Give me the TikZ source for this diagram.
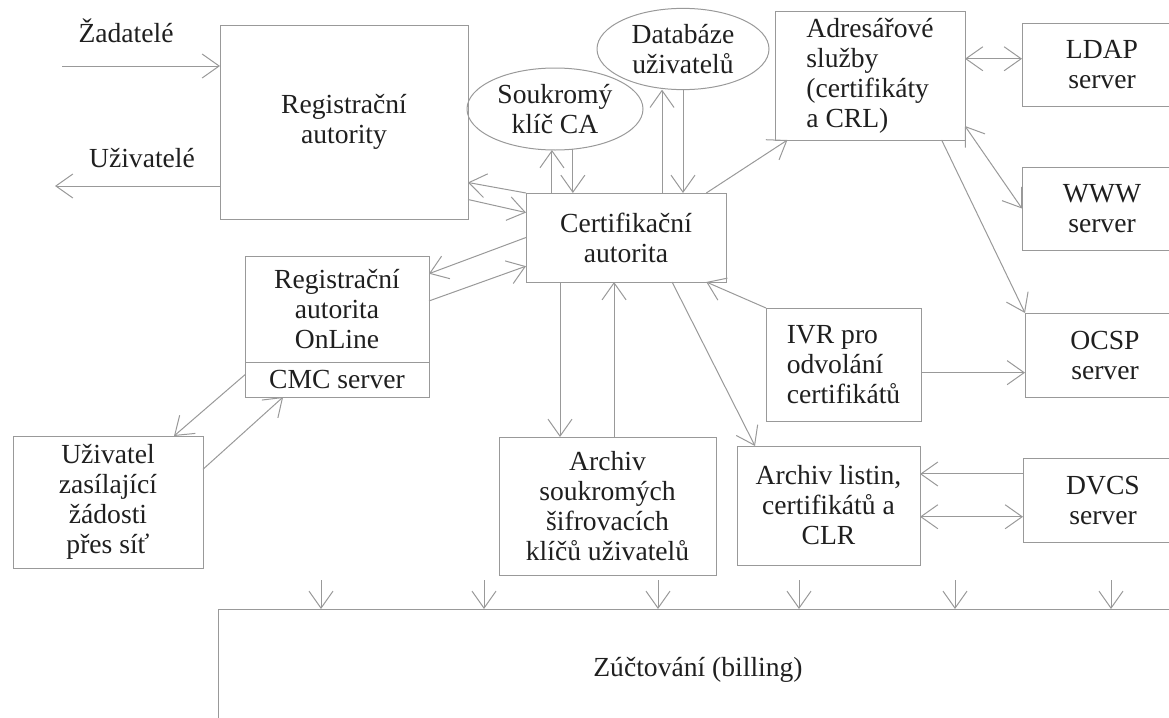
\documentclass[tikz,border=0pt]{standalone}
\usepackage{fontspec}
\setmainfont{Liberation Serif}
\usetikzlibrary{arrows.meta,shapes.geometric}

\tikzset{
  box/.style={draw=black!40,line width=0.5pt,rectangle,outer sep=0pt,inner sep=2pt,
    align=center,text=black!88,font=\fontsize{13.8}{15}\selectfont},
  oval/.style={box,ellipse},
  lbl/.style={text=black!88,font=\fontsize{13.8}{15}\selectfont,anchor=base},
  arr/.style={draw=black!40,line width=0.5pt,-{Straight Barb[length=8.5pt,width=12pt]}},
  dbl/.style={arr,{Straight Barb[length=8.5pt,width=12pt]}-{Straight Barb[length=8.5pt,width=12pt]}},
}

\begin{document}
\begin{tikzpicture}[x=0.5pt,y=-0.5pt]
    \path[use as bounding box,clip] (0,0) rectangle (1169,718);
    \node[box,minimum width=124pt,minimum height=97pt] (RA) at (344,122) {Registrační\\autority};
    \node[box,minimum width=92pt,minimum height=53pt] (RAO) at (337,309) {Registrační\\autorita\\OnLine};
    \node[box,minimum width=92pt,minimum height=17.5pt] (CMC) at (337,379.5) {CMC server};
    \node[box,minimum width=100pt,minimum height=44.5pt] (CA) at (626,237.5) {Certifikační\\autorita};
    \node[oval,minimum width=88pt,minimum height=41pt] (SK) at (555,109) {Soukromý\\klíč CA};
    \node[oval,minimum width=86pt,minimum height=40pt] (DB) at (683,49) {Databáze\\uživatelů};
    \node[box,align=left,minimum width=95pt,minimum height=64.5pt] (AS) at (870,75.5) {Adresářové\\služby\\(certifikáty\\a CRL)};
    \node[box,minimum width=80pt,minimum height=41.5pt] (LDAP) at (1102,64.5) {LDAP\\server};
    \node[box,minimum width=80pt,minimum height=41.5pt] (WWW) at (1102,208.5) {WWW\\server};
    \node[box,minimum width=80pt,minimum height=42pt] (OCSP) at (1105,355) {OCSP\\server};
    \node[box,minimum width=80pt,minimum height=42pt] (DVCS) at (1103,500) {DVCS\\server};
    \node[box,align=left,minimum width=77.5pt,minimum height=56.5pt] (IVR) at (843.5,364.5) {IVR pro\\odvolání\\certifikátů};
    \node[box,minimum width=108.5pt,minimum height=69pt] (AK) at (607.5,506) {Archiv\\soukromých\\šifrovacích\\klíčů uživatelů};
    \node[box,minimum width=91.5pt,minimum height=59.5pt] (AL) at (828.5,505.5) {Archiv listin,\\certifikátů a\\CLR};
    \node[box,minimum width=95pt,minimum height=66pt] (UZ) at (108,502) {Uživatel\\zasílající\\žádosti\\přes síť};
    \node[box,minimum width=480pt,minimum height=61pt] (BILL) at (698,670) {Zúčtování (billing)};
    \node[lbl] (ZAD) at (126,42) {Žadatelé};
    \node[lbl] (UZL) at (142,167) {Uživatelé};
    \coordinate (zin) at (62,66);
    \coordinate (zout) at (55,186);
%   zadatele a uzivatele
    \draw[arr] (zin) -- (zin -| RA.west);
    \draw[arr] (zout -| RA.west) -- (zout);
%   kolem CA
    \draw[arr] (CA.north west) -- (RA.-26);
    \draw[arr] (RA.-32) -- (CA.166);
    \draw[arr] (CA.west) -- (RAO.21);
    \draw[arr] (RAO.5) -- (CA.196);
    \draw[arr] (CA.149) -- (CA.149 |- SK.south);
    \draw[arr] (SK.-66) -- (SK.-66 |- CA.north);
    \draw[arr] (CA.51) -- (CA.51 |- DB.south);
    \draw[arr] (DB.south) -- (DB.south |- CA.north);
    \draw[arr] (CA.29) -- (AS.218);
    \draw[arr] (IVR.north west) -- (CA.-29);
    \draw[arr] (CA.-146) -- (CA.-146 |- AK.north);
    \draw[arr] (CA.-105 |- AK.north) -- (CA.-105);
    \draw[arr] (CA.-44) -- (AL.141);
%   servery vpravo
    \draw[dbl] (AS.10) -- (AS.10 -| LDAP.west);
    \draw[dbl] (AS.-28) -- (WWW.west);
    \draw[arr] (AS.-42) -- (OCSP.north west);
    \draw[arr] (IVR.-6) -- (IVR.-6 -| OCSP.west);
    \draw[arr] (AL.19 -| DVCS.west) -- (AL.19);
    \draw[dbl] (AL.-7) -- (AL.-7 -| DVCS.west);
%   online RA
    \draw[arr] (CMC.177) -- (UZ.45);
    \draw[arr] (UZ.19) -- (CMC.-162);
%   billing
    \foreach \x in {321,484,658,799,955,1111} {
      \coordinate (b\x) at (\x,580);
      \draw[arr] (b\x) -- (b\x |- BILL.north);
    }
\end{tikzpicture}
\end{document}
